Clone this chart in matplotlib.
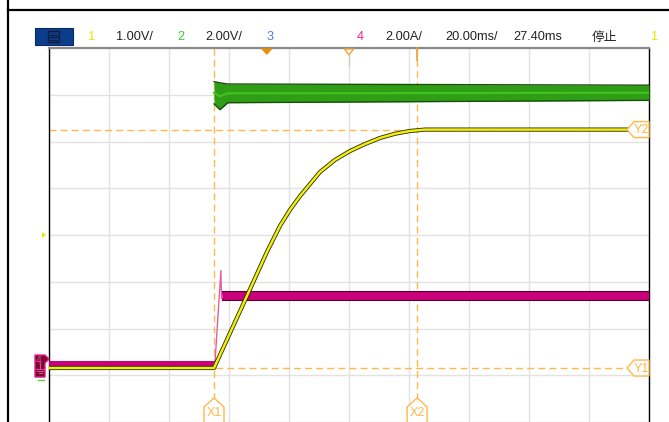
import matplotlib.pyplot as plt
from matplotlib.patches import Polygon, Rectangle

# screen settings (time in ms, trigger at 0)
ms_per_div = 20.0
t_left = -72.6
n_xdiv = 10
n_ydiv = 8

# channel scale (units/div) and ground position (div from centre)
ch1_scale, ch1_gnd = 1.0, -2.845
ch2_scale, ch2_gnd = 2.0, -2.845
ch4_scale, ch4_gnd = 2.0, -2.76

# ch1 (yellow) output voltage, V
ch1_t = [-72.6, -17.6, -8.9, 0.1, 4.4, 7.7, 11.1, 17.7, 22.7, 27.7, 32.7, 37.7,
         42.7, 47.7, 52.7, 127.4]
ch1_v = [0.0, 0.0, 1.22, 2.49, 3.04, 3.38, 3.68, 4.19, 4.45, 4.64, 4.79, 4.92,
         5.01, 5.07, 5.10, 5.10]

# ch2 (green) input voltage, V : envelope after switch-on
ch2_t = [-17.6, -15.6, -13.0, 127.4]
ch2_hi = [12.25, 12.2, 12.15, 12.1]
ch2_lo = [11.3, 11.05, 11.35, 11.45]
ch2_off_t = [-72.6, -17.6]
ch2_off_v = [0.0, 0.0]

# ch4 (magenta) current, A
ch4_off_t = [-72.6, -17.3]
ch4_off_hi = [0.12, 0.12]
ch4_off_lo = [-0.1, -0.1]
ch4_on_t = [-14.9, 127.4]
ch4_on_hi = [3.12, 3.12]
ch4_on_lo = [2.72, 2.72]
ch4_spike_t = [-17.6, -17.3, -15.3, -15.1, -14.9]
ch4_spike_a = [0.0, 0.0, 4.0, 2.8, 2.9]

# cursors
x1_ms, x2_ms = -17.6, 50.1
y1_v, y2_v = 0.0, 5.1
ref_ms = 27.4

header = [("1", "#e8e800", 88), ("1.00V/", "#222222", 116), ("2", "#33cc33", 177),
          ("2.00V/", "#222222", 205), ("3", "#5577ee", 267), ("4", "#ee2299", 357),
          ("2.00A/", "#222222", 385), ("20.00ms/", "#222222", 445),
          ("27.40ms", "#222222", 513), ("停止", "#222222", 592)]

W, H = 669, 422
fig = plt.figure(figsize=(W / 100, H / 100), dpi=100)
fig.patch.set_facecolor("white")

# plot area: x 49..649 px, y 48..422 px
ax = fig.add_axes([49 / W, 0, 600 / W, 374 / H])
ax.set_xlim(t_left, t_left + n_xdiv * ms_per_div)
ax.set_ylim(-n_ydiv / 2, n_ydiv / 2)
ax.set_xticks([t_left + i * ms_per_div for i in range(n_xdiv + 1)])
ax.set_yticks(range(-4, 5))
ax.tick_params(length=0, labelbottom=False, labelleft=False)
ax.grid(True, color="#e2e2e2", lw=1.0)
ax.set_axisbelow(True)
for s in ["left", "right"]:
    ax.spines[s].set_color("black")
    ax.spines[s].set_linewidth(1.0)
ax.spines["top"].set_color("#8a8a8a")
ax.spines["top"].set_linewidth(1.6)
ax.spines["bottom"].set_visible(False)


def d1(v):
    return [x / ch1_scale + ch1_gnd for x in v]


def d2(v):
    return [x / ch2_scale + ch2_gnd for x in v]


def d4(v):
    return [x / ch4_scale + ch4_gnd for x in v]


# cursor lines
orange = "#ffb84a"
ax.axvline(x1_ms, color=orange, lw=1.0, ls=(0, (5, 3)), zorder=2)
ax.axvline(x2_ms, color=orange, lw=1.0, ls=(0, (5, 3)), zorder=2)
ax.axhline(d1([y2_v])[0], color=orange, lw=1.0, ls=(0, (5, 3)), zorder=2)
ax.axhline(d1([y1_v])[0], color=orange, lw=1.0, ls=(0, (5, 3)), zorder=2)

# ch2 green
ax.plot(ch2_off_t, d2(ch2_off_v), color="#2a8a10", lw=1.2, zorder=3)
ax.fill_between(ch2_t, d2(ch2_lo), d2(ch2_hi), color="#2f9e16", lw=0, zorder=3)
ax.plot(ch2_t, d2(ch2_hi), color="#16500a", lw=1.0, zorder=3)
ax.plot(ch2_t, d2(ch2_lo), color="#16500a", lw=1.0, zorder=3)
ax.plot(ch2_t, d2([(a + b) / 2 for a, b in zip(ch2_hi, ch2_lo)]), color="#3fc41e",
        lw=1.5, zorder=3)

# ch4 magenta
mag = "#c8007a"
ax.fill_between(ch4_off_t, d4(ch4_off_lo), d4(ch4_off_hi), color=mag, lw=0, zorder=4)
ax.fill_between(ch4_on_t, d4(ch4_on_lo), d4(ch4_on_hi), color=mag, lw=0, zorder=4)
ax.plot(ch4_on_t, d4(ch4_on_hi), color="#5a0030", lw=0.8, zorder=4)
ax.plot(ch4_on_t, d4(ch4_on_lo), color="#5a0030", lw=0.8, zorder=4)
ax.plot(ch4_spike_t, d4(ch4_spike_a), color="#e060a8", lw=1.0, zorder=4)

# ch1 yellow
ax.plot(ch1_t, d1(ch1_v), color="#2a2a00", lw=3.0, zorder=5, solid_joinstyle="round")
ax.plot(ch1_t, d1(ch1_v), color="#eeee10", lw=1.8, zorder=6, solid_joinstyle="round")

# overlay in pixel coordinates
ov = fig.add_axes([0, 0, 1, 1], zorder=10)
ov.set_xlim(0, W)
ov.set_ylim(H, 0)
ov.axis("off")
ov.patch.set_alpha(0)


def to_px(x, y):
    p = ax.transData.transform((x, y))
    return ov.transData.inverted().transform(p)


# frame lines
ov.plot([8, 8], [0, H], color="black", lw=1.6)
ov.plot([8, W], [10, 10], color="black", lw=1.6)

# header
ov.add_patch(Rectangle((35, 28), 38, 17, facecolor="#0c3c8c", edgecolor="#0a2a66", lw=0.8))
ov.add_patch(Rectangle((48, 31), 11, 11, facecolor="none", edgecolor="#0e1e3a", lw=1.0))
for yy in [34.5, 37, 39.5]:
    ov.plot([50, 57], [yy, yy], color="#0e1e3a", lw=0.8)
for txt, col, x in header:
    ov.text(x, 37.5, txt, color=col, fontsize=9.2, va="center", ha="left",
            family=["Liberation Sans", "Noto Sans CJK SC"])
ov.text(651, 37.5, "1", color="#e8e800", fontsize=9.2, va="center", ha="left",
        family=["Liberation Sans"])

# trigger marker and time reference marker
tx, _ = to_px(0, 0)
ov.add_patch(Polygon([(tx - 6, 48.5), (tx + 6, 48.5), (tx, 55)], closed=True,
                     facecolor="#f08c00", edgecolor="none"))
rx, _ = to_px(ref_ms, 0)
ov.add_patch(Polygon([(rx - 4.5, 49), (rx + 4.5, 49), (rx, 55)], closed=True,
                     facecolor="white", edgecolor="#f0a030", lw=1.0))
ov.plot([rx, rx], [55, 66], color="#cccccc", lw=1.0)
x2x, _ = to_px(x2_ms, 0)
ov.plot([x2x, x2x], [48, 60], color="#f0a030", lw=1.2)

# cursor tags
for name, v in [("Y2", y2_v), ("Y1", y1_v)]:
    _, yc = to_px(0, d1([v])[0])
    ov.add_patch(Polygon([(627, yc), (634, yc - 8), (649, yc - 8), (649, yc + 8),
                          (634, yc + 8)], closed=True, facecolor="white",
                         edgecolor=orange, lw=1.0))
    ov.text(641, yc + 0.5, name, color=orange, fontsize=9, ha="center", va="center",
            family="Liberation Sans")
for name, t in [("X1", x1_ms), ("X2", x2_ms)]:
    xc, _ = to_px(t, 0)
    ov.add_patch(Polygon([(xc, 398), (xc + 10, 407), (xc + 10, 424), (xc - 10, 424),
                          (xc - 10, 407)], closed=True, facecolor="white",
                         edgecolor=orange, lw=1.0))
    ov.text(xc, 413.5, name, color=orange, fontsize=9, ha="center", va="center",
            family="Liberation Sans")

# channel markers on the left
_, g4 = to_px(0, ch4_gnd)
ov.add_patch(Polygon([(35, g4 - 9), (45, g4 - 9), (49, g4 - 5), (45, g4 - 1),
                      (45, g4 + 13), (35, g4 + 13)], closed=True,
                     facecolor="#7a0a32", edgecolor="#e0208a", lw=1.0))
ov.text(38.5, g4 - 3, "4", color="#e04898", fontsize=7, ha="center", va="center",
        family="DejaVu Sans")
ov.plot([40, 40], [g4 - 1, g4 + 5], color="#e04898", lw=0.8)
for i, hw in enumerate([4, 2.8, 1.5]):
    ov.plot([40 - hw, 40 + hw], [g4 + 5 + i * 2, g4 + 5 + i * 2], color="#e04898", lw=0.8)
ov.plot([38, 44], [g4 + 16, g4 + 16], color="#55dd33", lw=1.0)
_, c1 = to_px(0, 0)
ov.add_patch(Polygon([(42, c1 - 3), (46, c1), (42, c1 + 3)], closed=True,
                     facecolor="#e8e800", edgecolor="none"))

fig.savefig("out.png", dpi=100)
